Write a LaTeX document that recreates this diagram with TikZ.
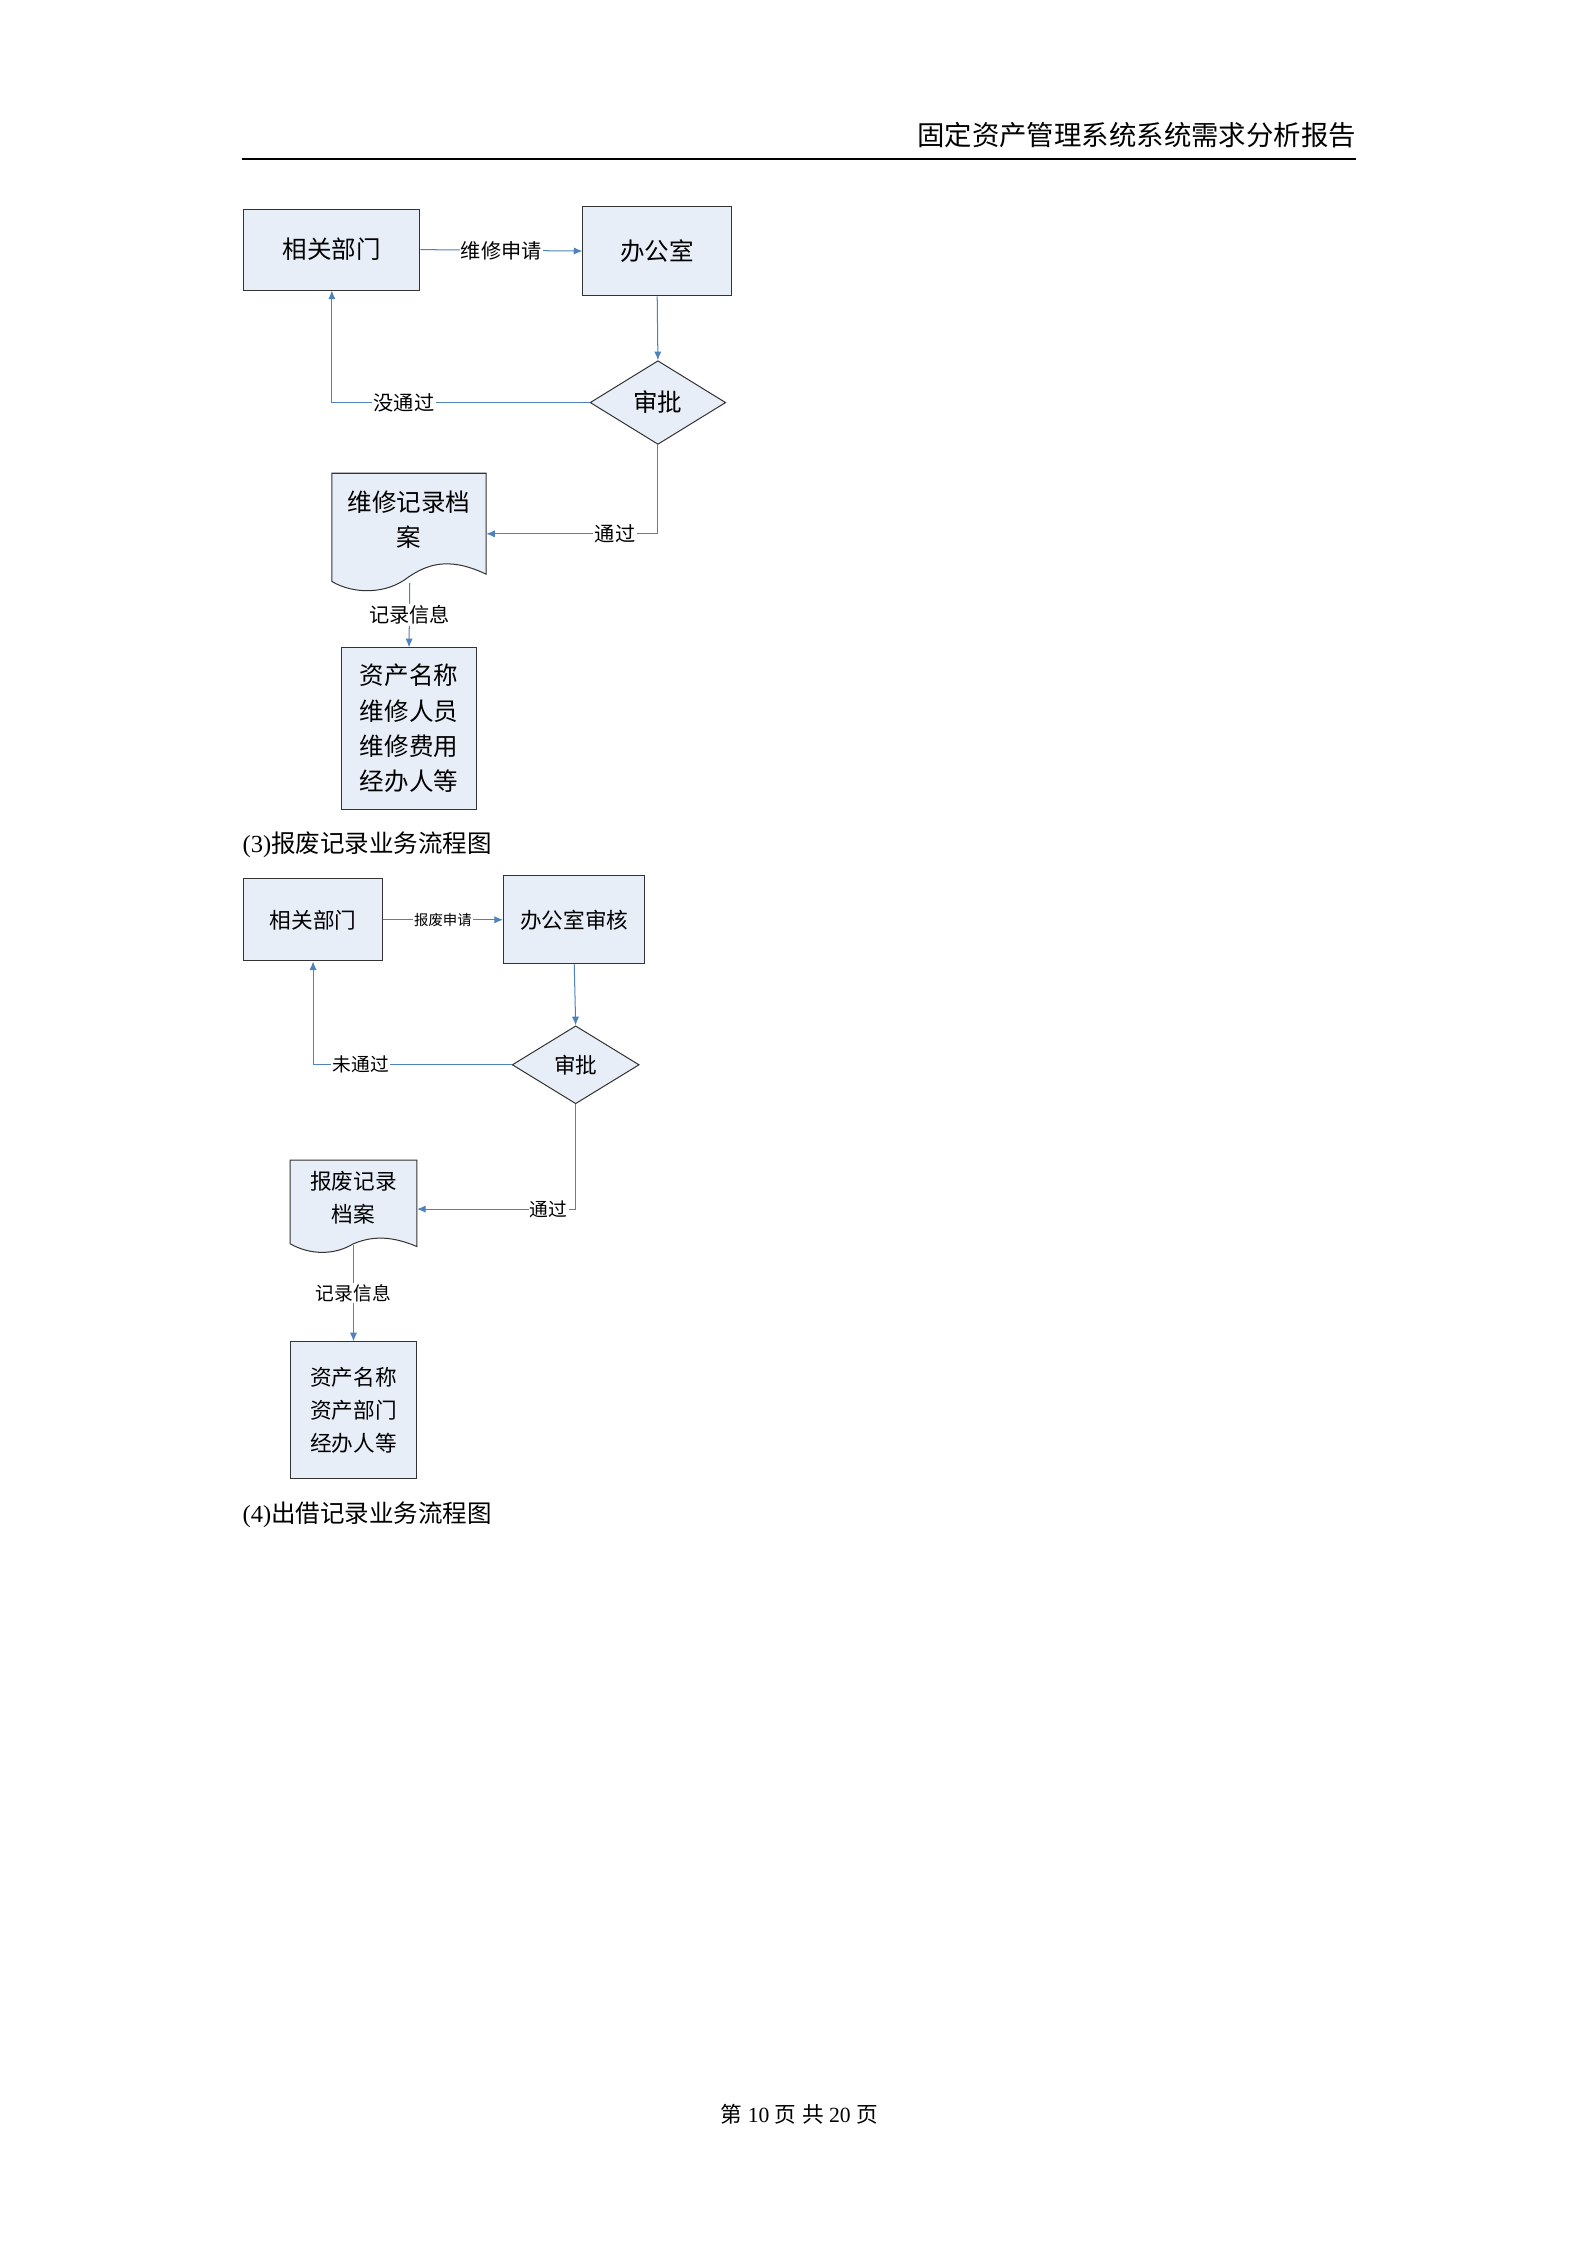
\documentclass[tikz,border=0pt]{standalone}
\usepackage{fontspec}
\setmainfont{Liberation Serif}
\newfontfamily\cjk{Noto Sans CJK SC}
\usetikzlibrary{shapes.geometric,arrows.meta}
\definecolor{boxfill}{HTML}{E8EEF8}
\definecolor{lnk}{HTML}{4F81BD}
\begin{document}
\begin{tikzpicture}[x=1pt,y=-1pt,
  bx/.style={draw=black!80,line width=0.7pt,fill=boxfill,inner sep=0pt,font=\cjk\fontsize{17}{22}\selectfont,align=center},
  dm/.style={diamond,draw=black!80,line width=0.7pt,fill=boxfill,inner sep=0pt,font=\cjk\fontsize{17}{20}\selectfont},
  lk/.style={draw=lnk,line width=0.7pt,-{Latex[length=6pt,width=5pt]}},
  lb/.style={fill=white,inner sep=1pt,font=\cjk\fontsize{14}{16}\selectfont},
  doc/.style={draw=black!80,line width=0.7pt,fill=boxfill}]
\useasboundingbox (0,0) rectangle (1100,1556);
% header
\node[anchor=base east,font=\cjk\fontsize{19}{20}\selectfont,inner sep=0pt] (hdr) at (940,101) {固定资产管理系统系统需求分析报告};
\draw[line width=1.2pt] (168,110) -- (940,110);
% ---- diagram 1
\node[bx,minimum width=122pt,minimum height=56pt] (a1) at (230,173) {相关部门};
\node[bx,minimum width=103pt,minimum height=62pt] (b1) at (455.5,174) {办公室};
\node[dm,minimum width=94pt,minimum height=58pt] (d1) at (456,279) {审批};
\draw[doc] (230,328) -- (337,328) -- (337,398) .. controls (310,385) and (295,392) .. (283,400) .. controls (268,412) and (245,412) .. (230,403) -- cycle;
\node[font=\cjk\fontsize{17}{24}\selectfont,align=center,inner sep=0pt] (r1) at (283.5,360) {维修记录档\\案};
\coordinate (r1e) at (337,370);
\coordinate (r1s) at (284,404);
\node[bx,minimum width=93pt,minimum height=112pt,font=\cjk\fontsize{17}{24.5}\selectfont] (i1) at (283.5,505) {资产名称\\维修人员\\维修费用\\经办人等};
\draw[lk] (a1.east) -- node[lb]{维修申请} (b1.west);
\draw[lk] (b1.south) -- (d1.north);
\draw[lk] (d1.west) -- node[lb,pos=0.72]{没通过} (230,279) -- (a1.south);
\draw[lk] (d1.south) -- (456,370) -- node[lb,pos=0.25]{通过} (r1e);
\draw[lk] (r1s) -- node[lb]{记录信息} (i1.north);
\node[anchor=base west,inner sep=0pt,font=\fontsize{17}{20}\selectfont] (c3) at (168,591) {(3){\cjk 报废记录业务流程图}};
% ---- diagram 2
\node[bx,minimum width=96pt,minimum height=57pt,font=\cjk\fontsize{15}{20}\selectfont] (a2) at (217,637.5) {相关部门};
\node[bx,minimum width=98pt,minimum height=61pt,font=\cjk\fontsize{15}{20}\selectfont] (b2) at (398,637.5) {办公室审核};
\node[dm,minimum width=88pt,minimum height=54pt,font=\cjk\fontsize{15}{20}\selectfont] (d2) at (399,738) {审批};
\draw[doc] (201,804) -- (289,804) -- (289,864) .. controls (268,855) and (255,858) .. (245,862) .. controls (232,870) and (215,870) .. (201,862) -- cycle;
\node[font=\cjk\fontsize{15}{23}\selectfont,align=center,inner sep=0pt] (r2) at (245,830) {报废记录\\档案};
\coordinate (r2e) at (289,838);
\coordinate (r2s) at (245,863);
\node[bx,minimum width=88pt,minimum height=95pt,font=\cjk\fontsize{15}{23}\selectfont] (i2) at (245,977.5) {资产名称\\资产部门\\经办人等};
\draw[lk] (a2.east) -- node[lb,font=\cjk\fontsize{10}{12}\selectfont]{报废申请} (b2.west);
\draw[lk] (b2.south) -- (d2.north);
\draw[lk] (d2.west) -- node[lb,pos=0.76,font=\cjk\fontsize{13}{15}\selectfont]{未通过} (217,738) -- (a2.south);
\draw[lk] (d2.south) -- (399,838) -- node[lb,pos=0.17,font=\cjk\fontsize{13}{15}\selectfont]{通过} (r2e);
\draw[lk] (r2s) -- node[lb,font=\cjk\fontsize{13}{15}\selectfont]{记录信息} (i2.north);
\node[anchor=base west,inner sep=0pt,font=\fontsize{17}{20}\selectfont] (c4) at (168,1055) {(4){\cjk 出借记录业务流程图}};
% footer
\node[anchor=base,inner sep=0pt,font=\fontsize{15}{18}\selectfont] (ftr) at (554,1471) {{\cjk 第} 10 {\cjk 页} {\cjk 共} 20 {\cjk 页}};
\end{tikzpicture}
\end{document}
